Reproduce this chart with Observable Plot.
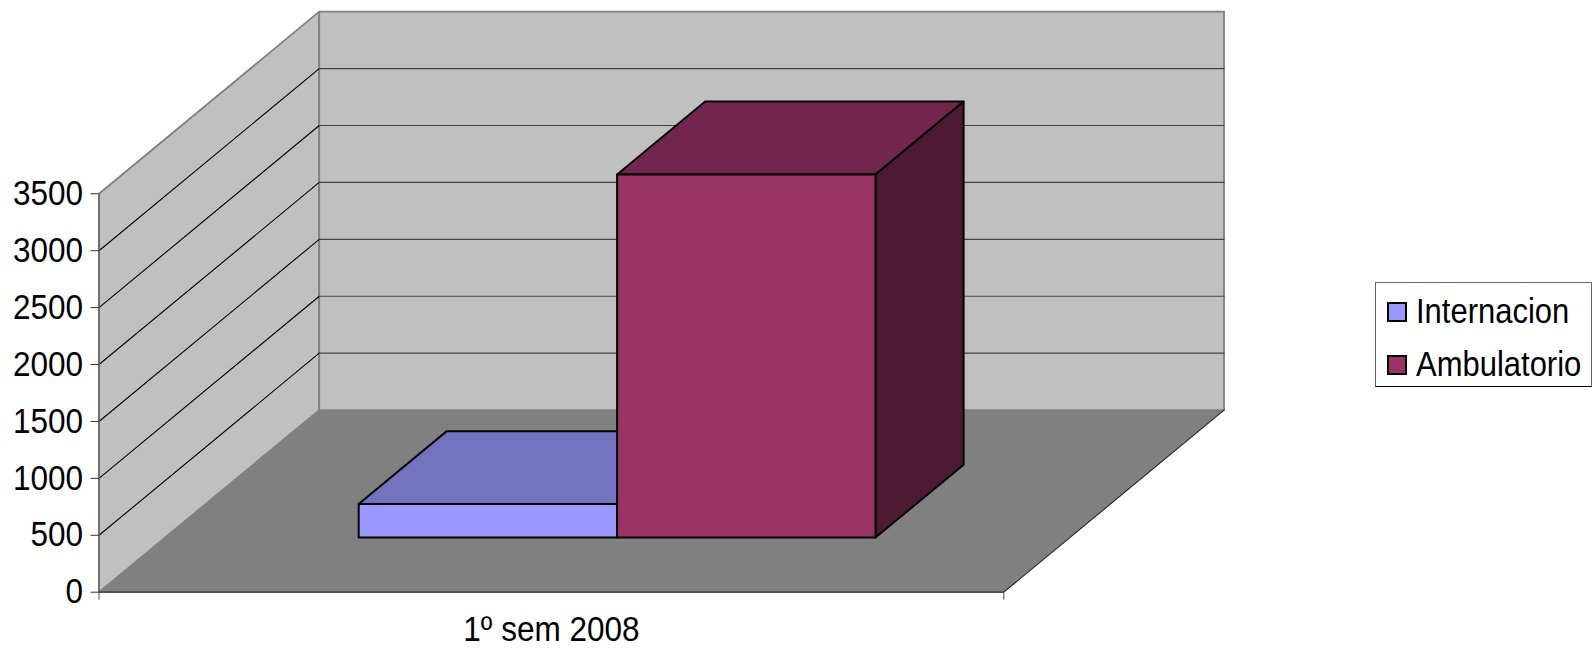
<!DOCTYPE html>
<html>
<head>
<meta charset="utf-8">
<script src="https://cdn.jsdelivr.net/npm/d3@7"></script>
<script src="https://cdn.jsdelivr.net/npm/@observablehq/plot@0.6"></script>
<style>
  html, body { margin: 0; padding: 0; background: #fff; }
  #wrap { position: relative; width: 1593px; height: 648px; overflow: hidden; font-family: "Liberation Sans", Arial, sans-serif; }
  #legend { position: absolute; left: 1375px; top: 282px; width: 217px; height: 105px; box-sizing: border-box; border: 1.3px solid #666; border-bottom-color: #000; }
  .row { position: absolute; left: 11px; height: 20px; display: flex; align-items: center; font-size: 35px; color: #000; white-space: nowrap; }
  .sw { width: 15.5px; height: 16.5px; border: 2px solid #000; margin-right: 9px; flex: none; }
  .lbl { display: inline-block; transform: scaleX(0.885); transform-origin: left center; position: relative; top: -1px; }
</style>
</head>
<body>
<div id="wrap"><div id="legend"></div></div>
<script>
// ---- data ----
const categories = ["1º sem 2008"];
const seriesNames = ["Internacion", "Ambulatorio"];
const seriesValues = [295, 3190];
const yTicks = [0, 500, 1000, 1500, 2000, 2500, 3000, 3500];

// ---- styling and 3-D geometry, in data units ----
const frontColors = ["#9999FF", "#993366"];
const topColors = ["#7373BF", "#73264D"];
const sideColors = ["#4D4D80", "#4D1A33"];
const yMax = 3500;
const depthX = 0.2434;    // back wall shift, in x-domain units
const depthY = 1600;      // back wall shift, in value units
const barStart = 0.214;   // share of the floor's width left of the first bar
const barWidth = 0.2856;  // share of the floor's width per bar
const barDepth = [0.3, 0.7];
const labelSqueeze = 0.9;

const pt = (x, d, v) => ({x: x + d * depthX, y: v + d * depthY});
const poly = (...corners) => corners.map(([x, d, v]) => pt(x, d, v));

const wallFaces = [
  {fill: "#C0C0C0", pts: poly([0, 0, 0], [0, 1, 0], [0, 1, yMax], [0, 0, yMax])},
  {fill: "#C0C0C0", pts: poly([0, 1, 0], [1, 1, 0], [1, 1, yMax], [0, 1, yMax])}
];
const floorFace = poly([0, 0, 0], [1, 0, 0], [1, 1, 0], [0, 1, 0]);

const gridLines = yTicks.slice(1, -1).flatMap(v => [
  {v, part: "left", ...pt(0, 0, v)},
  {v, part: "left", ...pt(0, 1, v)},
  {v, part: "back", ...pt(0, 1, v)},
  {v, part: "back", ...pt(1, 1, v)}
]);

const [d0, d1] = barDepth;
const barFaces = seriesValues.flatMap((v, i) => {
  const a = barStart + i * barWidth, b = a + barWidth;
  return [
    {fill: topColors[i], pts: poly([a, d0, v], [b, d0, v], [b, d1, v], [a, d1, v])},
    {fill: sideColors[i], pts: poly([b, d0, 0], [b, d1, 0], [b, d1, v], [b, d0, v])},
    {fill: frontColors[i], pts: poly([a, d0, 0], [b, d0, 0], [b, d0, v], [a, d0, v])}
  ];
});

const xy = {x: "x", y: "y"};
const chart = Plot.plot({
  width: 1593,
  height: 648,
  marginLeft: 98.5,
  marginRight: 589.7,
  marginTop: 193.3,
  marginBottom: 56.3,
  style: {fontFamily: "'Liberation Sans', Arial, sans-serif", background: "transparent", overflow: "visible"},
  x: {domain: [0, 1]},
  y: {domain: [0, yMax]},
  marks: [
    ...wallFaces.map(f => Plot.line(f.pts, {...xy, curve: "linear-closed", fill: f.fill, stroke: "#808080", strokeWidth: 1.8})),
    Plot.line(floorFace, {...xy, curve: "linear-closed", fill: "#808080", stroke: "none"}),
    Plot.line(gridLines, {...xy, z: d => d.v + d.part, stroke: d => d.part === "left" ? "#000" : "#444", strokeWidth: 1.1}),
    Plot.line([pt(1, 0, 0), pt(1, 1, 0)], {...xy, stroke: "#222", strokeWidth: 1.1}),
    Plot.ruleX([0], {y1: 0, y2: yMax, stroke: "#666", strokeWidth: 1.4}),
    Plot.ruleY([0], {x1: 0, x2: 1, stroke: "#222", strokeWidth: 1.2}),
    ...barFaces.map(f => Plot.line(f.pts, {...xy, curve: "linear-closed", fill: f.fill, stroke: "#000", strokeWidth: 2})),
    Plot.axisY(yTicks, {anchor: "left", tickSize: 8, tickPadding: 8, tickFormat: d => String(d), label: null, fontSize: 35, fill: "#000", stroke: "#333"}),
    Plot.axisX([0, 1], {anchor: "bottom", tickSize: 8, tickFormat: () => "", label: null, stroke: "#555"}),
    Plot.text(categories, {x: () => 0.5, y: () => 0, text: d => d, dy: 38, fontSize: 35, fill: "#000"})
  ]
});
document.getElementById("wrap").prepend(chart);

// the reference's lettering is tall and narrow: squeeze each label horizontally
chart.querySelectorAll("text").forEach(t => {
  if (!t.textContent) return;
  t.setAttribute("textLength", t.getComputedTextLength() * labelSqueeze);
  t.setAttribute("lengthAdjust", "spacingAndGlyphs");
});

const legend = document.getElementById("legend");
[19, 72].forEach((top, i) => {
  const row = document.createElement("div");
  row.className = "row";
  row.style.top = top + "px";
  const sw = document.createElement("span");
  sw.className = "sw";
  sw.style.background = frontColors[i];
  const lbl = document.createElement("span");
  lbl.className = "lbl";
  lbl.textContent = seriesNames[i];
  row.append(sw, lbl);
  legend.append(row);
});
</script>
</body>
</html>
